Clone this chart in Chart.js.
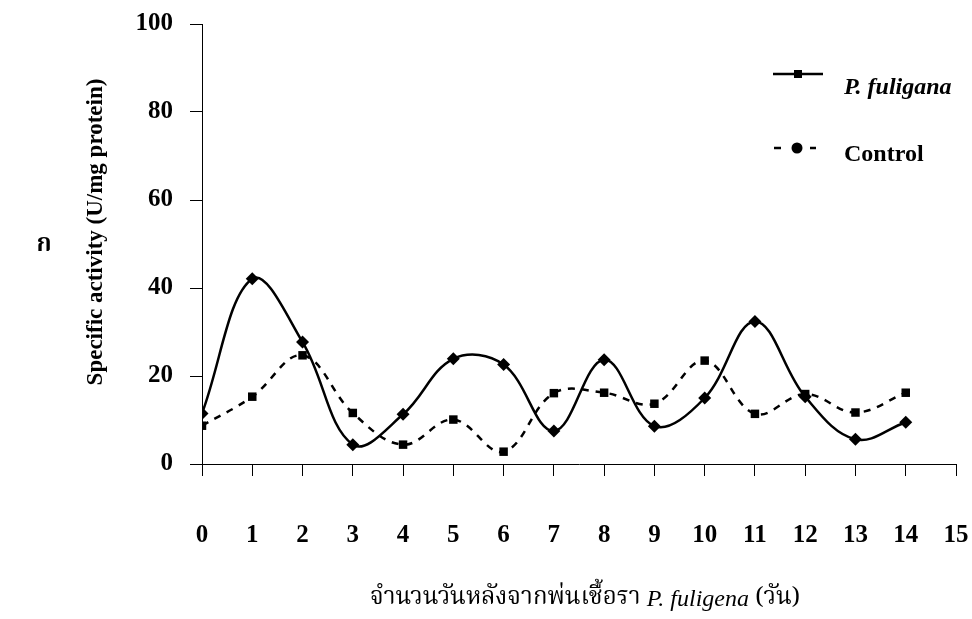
<!DOCTYPE html>
<html lang="th">
<head>
    <meta charset="UTF-8">
    <title>Specific activity</title>
    <script src="https://cdn.jsdelivr.net/npm/chart.js"></script>
    <style>
        html, body { margin: 0; padding: 0; background: #fff; }
    </style>
</head>
<body>
    <canvas id="activityChart" width="972" height="619"></canvas>

    <script>
        // days after spraying
        const days = [0, 1, 2, 3, 4, 5, 6, 7, 8, 9, 10, 11, 12, 13, 14];
        const xTickLabels = ['0', '1', '2', '3', '4', '5', '6', '7', '8', '9', '10', '11', '12', '13', '14', '15'];
        const yTickLabels = ['0', '20', '40', '60', '80', '100'];

        // specific activity (U/mg protein)
        const fuligenaValues = [11.5, 42.1, 27.7, 4.4, 11.3, 23.9, 22.6, 7.5, 23.7, 8.6, 15.0, 32.4, 15.3, 5.6, 9.5];
        const controlValues = [8.7, 15.3, 24.7, 11.6, 4.4, 10.1, 2.8, 16.1, 16.2, 13.7, 23.5, 11.4, 15.9, 11.7, 16.2];

        const legendNames = ['P. fuligana', 'Control'];
        const yTitle = 'Specific activity (U/mg protein)';
        const xTitleParts = ['จำนวนวันหลังจากพ่นเชื้อรา ', 'P. fuligena', ' (วัน)'];
        const panelLabel = 'ก';

        const serif = "'Liberation Serif', 'Times New Roman', serif";
        const thaiFont = "'Noto Serif Thai', 'Noto Sans Thai', 'Liberation Serif', serif";

        const toPoints = values => values.map((v, i) => ({ x: days[i], y: v }));

        // legend, axis titles and panel letter drawn straight on the canvas
        const extrasPlugin = {
            id: 'extras',
            afterDraw(chart) {
                const ctx = chart.ctx;
                ctx.save();
                ctx.fillStyle = '#000';
                ctx.strokeStyle = '#000';

                // legend row 1: solid line with square
                ctx.lineWidth = 2.5;
                ctx.beginPath();
                ctx.moveTo(773, 74);
                ctx.lineTo(823, 74);
                ctx.stroke();
                ctx.fillRect(794, 70, 8, 8);
                ctx.font = 'italic bold 24px ' + serif;
                ctx.textBaseline = 'middle';
                ctx.textAlign = 'left';
                ctx.fillText(legendNames[0], 844, 88);

                // legend row 2: dashes with a dot
                ctx.beginPath();
                ctx.moveTo(774, 148);
                ctx.lineTo(781, 148);
                ctx.moveTo(810, 148);
                ctx.lineTo(816, 148);
                ctx.stroke();
                ctx.beginPath();
                ctx.arc(797, 148, 5.5, 0, Math.PI * 2);
                ctx.fill();
                ctx.font = 'bold 24px ' + serif;
                ctx.fillText(legendNames[1], 844, 155);

                // y axis title
                ctx.save();
                ctx.translate(96, 232);
                ctx.rotate(-Math.PI / 2);
                ctx.textAlign = 'center';
                ctx.font = 'bold 23px ' + serif;
                ctx.fillText(yTitle, 0, 0);
                ctx.restore();

                // panel letter
                ctx.font = 'bold 24px ' + thaiFont;
                ctx.textAlign = 'center';
                ctx.fillText(panelLabel, 44, 247);

                // x axis title, mixed normal / italic
                const fonts = ['24px ' + thaiFont, 'italic 24px ' + serif, '24px ' + thaiFont];
                let total = 0;
                const widths = xTitleParts.map((t, i) => {
                    ctx.font = fonts[i];
                    const w = ctx.measureText(t).width;
                    total += w;
                    return w;
                });
                const area = chart.chartArea;
                let x = (area.left + area.right) / 2 + 6 - total / 2;
                ctx.textAlign = 'left';
                xTitleParts.forEach((t, i) => {
                    ctx.font = fonts[i];
                    ctx.fillText(t, x, 600);
                    x += widths[i];
                });
                ctx.restore();
            }
        };

        const config = {
            type: 'line',
            data: {
                datasets: [{
                    label: legendNames[0],
                    data: toPoints(fuligenaValues),
                    borderColor: '#000',
                    backgroundColor: '#000',
                    borderWidth: 2.5,
                    tension: 0.38,
                    pointStyle: 'rectRot',
                    pointRadius: 6.5,
                    pointBorderWidth: 0
                }, {
                    label: legendNames[1],
                    data: toPoints(controlValues),
                    borderColor: '#000',
                    backgroundColor: '#000',
                    borderWidth: 2.5,
                    borderDash: [7, 7],
                    tension: 0.38,
                    pointStyle: 'rect',
                    pointRadius: 6,
                    pointBorderWidth: 0
                }]
            },
            options: {
                responsive: false,
                animation: false,
                layout: { padding: { top: 24, right: 16, left: 0, bottom: 0 } },
                plugins: {
                    legend: { display: false },
                    tooltip: { enabled: false }
                },
                scales: {
                    x: {
                        type: 'linear',
                        min: 0,
                        max: 15,
                        afterFit: scale => {
                            scale.height = 155;
                            // tick padding would otherwise shrink the plot sideways
                            scale.paddingLeft = 0;
                            scale.paddingRight = 0;
                        },
                        afterBuildTicks: scale => {
                            scale.ticks = xTickLabels.map(t => ({ value: Number(t) }));
                        },
                        ticks: {
                            color: '#000',
                            padding: 45,
                            maxRotation: 0,
                            autoSkip: false,
                            font: { family: serif, size: 25, weight: 'bold' },
                            callback: (v, i) => xTickLabels[i]
                        },
                        grid: { drawOnChartArea: false, tickLength: 12, color: '#000', lineWidth: 1 },
                        border: { color: '#000', width: 1 }
                    },
                    y: {
                        min: 0,
                        max: 100,
                        afterFit: scale => {
                            scale.width = 202;
                            scale.paddingTop = 0;
                            scale.paddingBottom = 0;
                        },
                        afterBuildTicks: scale => {
                            scale.ticks = yTickLabels.map(t => ({ value: Number(t) }));
                        },
                        ticks: {
                            color: '#000',
                            padding: 17,
                            font: { family: serif, size: 25, weight: 'bold' },
                            callback: (v, i) => yTickLabels[i]
                        },
                        grid: { drawOnChartArea: false, tickLength: 12, color: '#000', lineWidth: 1 },
                        border: { color: '#000', width: 1 }
                    }
                }
            },
            plugins: [extrasPlugin]
        };

        new Chart(document.getElementById('activityChart').getContext('2d'), config);
    </script>
</body>
</html>
